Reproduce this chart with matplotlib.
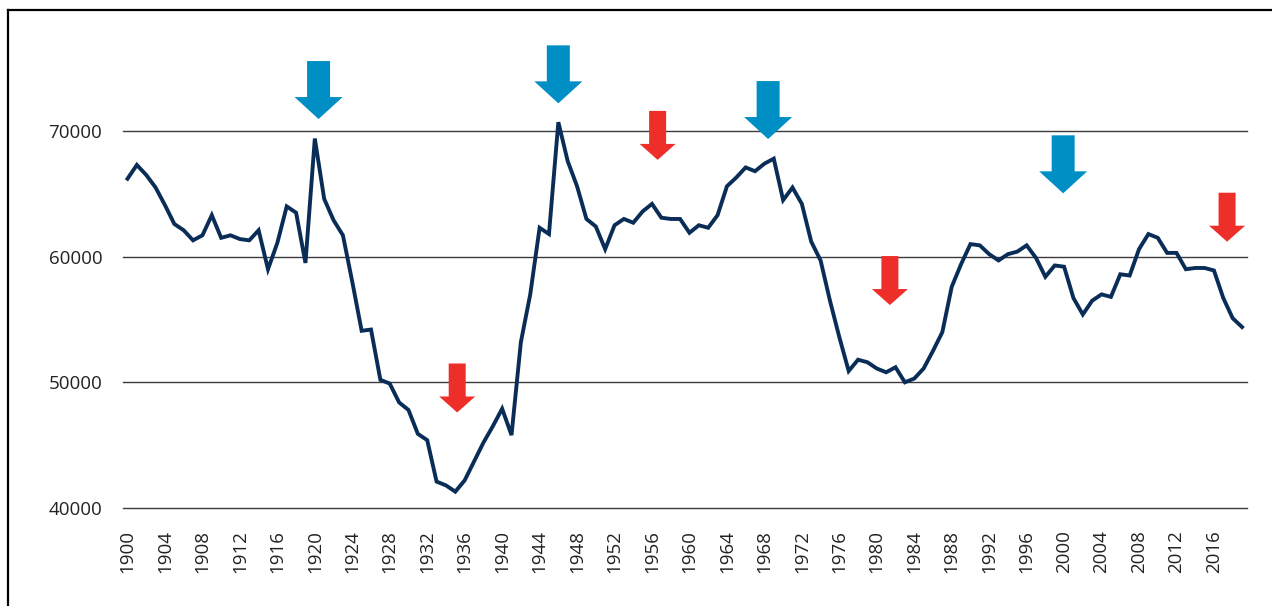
import matplotlib.pyplot as plt
import matplotlib.transforms as mtransforms
from matplotlib.patches import Polygon
from matplotlib.lines import Line2D
import numpy as np

years = list(range(1900, 2020))
values = [
    66200, 67300, 66500, 65500, 64100, 62600, 62100, 61300, 61700, 63300,  # 1900s
    61500, 61700, 61400, 61300, 62100, 59000, 61100, 64000, 63500, 59500,  # 1910s
    69400, 64600, 62900, 61700, 58000, 54100, 54200, 50200, 49900, 48400,  # 1920s
    47800, 45900, 45400, 42100, 41800, 41300, 42200, 43700, 45200, 46500,  # 1930s
    47900, 45800, 53200, 57000, 62300, 61800, 70700, 67600, 65600, 63000,  # 1940s
    62400, 60600, 62500, 63000, 62700, 63600, 64200, 63100, 63000, 63000,  # 1950s
    61900, 62500, 62300, 63300, 65600, 66300, 67100, 66800, 67400, 67800,  # 1960s
    64500, 65500, 64200, 61200, 59700, 56500, 53600, 50900, 51800, 51600,  # 1970s
    51100, 50800, 51200, 50000, 50300, 51100, 52500, 54000, 57600, 59400,  # 1980s
    61000, 60900, 60200, 59700, 60200, 60400, 60900, 59900, 58400, 59300,  # 1990s
    59200, 56700, 55400, 56500, 57000, 56800, 58600, 58500, 60600, 61800,  # 2000s
    61500, 60300, 60300, 59000, 59100, 59100, 58900, 56700, 55100, 54400,  # 2010s
]
xticks = list(range(1900, 2017, 4))
yticks = [40000, 50000, 60000, 70000]

# arrow markers: year, value at the tip, kind
arrow_years = [1920.4, 1946.0, 1935.2, 1956.6, 1968.4, 1981.4, 1999.9, 2017.4]
arrow_tips = [70950, 72200, 47600, 67700, 69360, 56150, 65040, 61190]
arrow_kind = ['blue', 'blue', 'red', 'red', 'blue', 'red', 'blue', 'red']

line_col = '#0a2d57'
blue = '#008fc4'
red = '#ee2f29'
# sizes in pixels: shaft width, head width, shaft length, head length
arrow_size = {'blue': (23, 48, 36, 22), 'red': (17, 36, 33, 16)}
arrow_col = {'blue': blue, 'red': red}

plt.rcParams['font.family'] = ['Open Sans', 'DejaVu Sans']

fig = plt.figure(figsize=(12.72, 6.06), dpi=100)
W, H = 1272, 606
ax = fig.add_axes([123 / W, (H - 508) / H, (1247 - 123) / W, (508 - 40) / H])

ax.plot(years, values, color=line_col, lw=2.8, solid_joinstyle='miter', zorder=3)

px_year = 9.366
px_val = 0.012567
ax.set_xlim(1900 - 4.5 / px_year, 1900 + (1247 - 127.5) / px_year)
ax.set_ylim(40000, 70000 + (131 - 40) / px_val)

for v in yticks:
    ax.axhline(v, color='#3c3c3c', lw=1.0, zorder=1, clip_on=False)

ax.set_xticks(xticks)
ax.set_xticklabels([str(y) for y in xticks], rotation=90, fontsize=13.5, color='#222222')
ax.set_yticks(yticks)
ax.set_yticklabels([str(v) for v in yticks], fontsize=13.5, color='#222222')
ax.tick_params(axis='both', length=0)
ax.tick_params(axis='x', pad=16)
ax.tick_params(axis='y', pad=15)
for s in ax.spines.values():
    s.set_visible(False)

# arrows drawn in pixel offsets around a data anchor (the tip)
scale = mtransforms.Affine2D().scale(fig.dpi / 100.0)
for yr, tip, kind in zip(arrow_years, arrow_tips, arrow_kind):
    sw, hw, sl, hl = arrow_size[kind]
    verts = np.array([
        [0, 0], [-hw / 2, hl], [-sw / 2, hl], [-sw / 2, hl + sl],
        [sw / 2, hl + sl], [sw / 2, hl], [hw / 2, hl],
    ])
    tr = scale + mtransforms.ScaledTranslation(yr, tip, ax.transData)
    ax.add_patch(Polygon(verts, closed=True, transform=tr, facecolor=arrow_col[kind],
                         edgecolor='none', zorder=4, clip_on=False))

# partial frame (left and top edges)
fig.add_artist(Line2D([8 / W, 8 / W], [0, 1 - 10 / H], transform=fig.transFigure,
                      color='black', lw=1.6))
fig.add_artist(Line2D([8 / W, 1], [1 - 10 / H, 1 - 10 / H], transform=fig.transFigure,
                      color='black', lw=1.6))

fig.savefig('out.png', dpi=100)
